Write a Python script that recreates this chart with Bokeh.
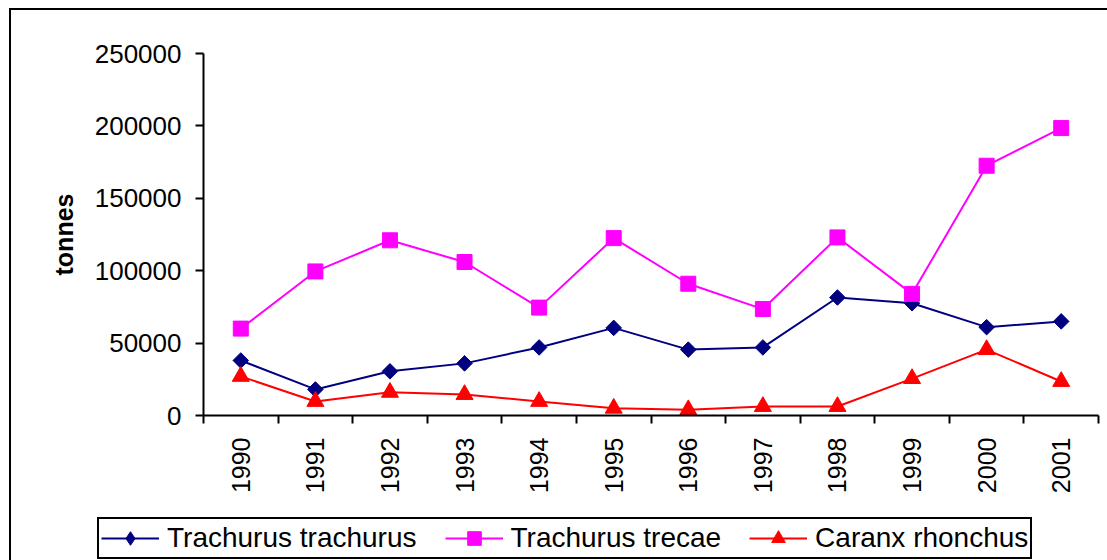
import math
from bokeh.plotting import figure
from bokeh.layouts import column
from bokeh.models import (FixedTicker, NumeralTickFormatter, Legend, LegendItem,
                          Range1d, ColumnDataSource)
from bokeh.embed import file_html
from bokeh.resources import INLINE

years = ["1990", "1991", "1992", "1993", "1994", "1995", "1996", "1997",
         "1998", "1999", "2000", "2001"]
trachurus_trachurus = [38000, 18000, 30500, 36000, 47000, 60500, 45500, 47000,
                       81500, 77500, 61000, 65000]
trachurus_trecae = [60000, 99500, 121000, 106000, 74500, 122500, 91000, 73500,
                    123000, 84000, 172500, 198500]
caranx_rhonchus = [27000, 9700, 16000, 14500, 9700, 5000, 4000, 6200,
                   6200, 25500, 45500, 23500]
series_names = ["Trachurus trachurus", "Trachurus trecae", "Caranx rhonchus"]
y_ticks = [0, 50000, 100000, 150000, 200000, 250000]

navy = "#000080"
mag = "#FF00FF"
red = "#FF0000"

xs = [i + 0.5 for i in range(len(years))]
src = ColumnDataSource(dict(x=xs, tt=trachurus_trachurus, tr=trachurus_trecae,
                            cr=caranx_rhonchus))

p = figure(width=1096, height=495, output_backend="svg", toolbar_location=None,
           x_range=Range1d(0, len(years)), y_range=Range1d(0, 250000),
           min_border_left=192, min_border_right=9, min_border_top=43,
           min_border_bottom=90)
p.outline_line_color = None
p.xgrid.visible = False
p.ygrid.visible = False
p.frame_align = False


def add_series(fig, source, col, color, marker, size, angle=0.0):
    ln = fig.line("x", col, source=source, line_color=color, line_width=2)
    sc = fig.scatter("x", col, source=source, marker=marker, size=size, angle=angle,
                     fill_color=color, line_color=color)
    return ln, sc


add_series(p, src, "tt", navy, "square", 11, math.pi / 4)
add_series(p, src, "tr", mag, "square", 15)
add_series(p, src, "cr", red, "triangle", 17)

# x axis: labels at category centres, ticks at boundaries
xa = p.xaxis[0]
xa.ticker = FixedTicker(ticks=xs, minor_ticks=list(range(len(years) + 1)))
xa.major_label_overrides = {x: y for x, y in zip(xs, years)}
xa.major_label_orientation = math.pi / 2
xa.major_tick_line_color = None
xa.major_tick_out = 8
xa.major_tick_in = 0
xa.minor_tick_out = 8
xa.minor_tick_in = 0
xa.minor_tick_line_color = "black"
xa.minor_tick_line_width = 2
xa.axis_line_width = 2
xa.axis_line_color = "black"
xa.major_label_text_font = "Liberation Sans"
xa.major_label_text_font_size = "25px"
xa.major_label_text_color = "black"
xa.major_label_standoff = 14

ya = p.yaxis[0]
ya.ticker = FixedTicker(ticks=y_ticks)
ya.formatter = NumeralTickFormatter(format="0")
ya.major_tick_out = 8
ya.major_tick_in = 0
ya.major_tick_line_width = 2
ya.major_tick_line_color = "black"
ya.minor_tick_line_color = None
ya.axis_line_width = 2
ya.axis_line_color = "black"
ya.major_label_text_font = "Liberation Sans"
ya.major_label_text_font_size = "26px"
ya.major_label_text_color = "black"
ya.major_label_standoff = 14
ya.axis_label = "tonnes"
ya.axis_label_text_font = "Liberation Sans"
ya.axis_label_text_font_size = "25px"
ya.axis_label_text_font_style = "bold"
ya.axis_label_text_color = "black"
ya.axis_label_standoff = 14

# legend strip below the chart (its renderers are hidden; only the key shows)
p2 = figure(width=1096, height=55, output_backend="svg", toolbar_location=None,
            x_axis_type=None, y_axis_type=None,
            x_range=Range1d(0, len(years)), y_range=Range1d(0, 250000),
            min_border_left=0, min_border_right=0, min_border_top=0,
            min_border_bottom=0)
p2.outline_line_color = None
p2.xgrid.visible = False
p2.ygrid.visible = False
p2.frame_align = False
r1 = add_series(p2, src, "tt", navy, "diamond", 22)
r2 = add_series(p2, src, "tr", mag, "square", 15)
r3 = add_series(p2, src, "cr", red, "triangle", 17)
for r in (*r1, *r2, *r3):
    r.visible = False

legend = Legend(items=[
    LegendItem(label=series_names[0], renderers=list(r1)),
    LegendItem(label=series_names[1], renderers=list(r2)),
    LegendItem(label=series_names[2], renderers=list(r3)),
], orientation="horizontal", location=(86, 1))
legend.label_text_font = "Liberation Sans"
legend.label_text_font_size = "28px"
legend.label_text_color = "black"
legend.glyph_width = 58
legend.glyph_height = 34
legend.label_standoff = 8
legend.spacing = 28
legend.padding = 2
legend.margin = 0
legend.border_line_color = "black"
legend.border_line_width = 2
legend.border_line_alpha = 1
legend.background_fill_alpha = 1
legend.inactive_fill_alpha = 0
p2.add_layout(legend, "center")

layout = column(p, p2, spacing=0,
                styles={"border-left": "2px solid black",
                        "border-top": "2px solid black",
                        "margin-left": "9px", "margin-top": "8px"})

open("out.html", "w").write(file_html(layout, INLINE))
